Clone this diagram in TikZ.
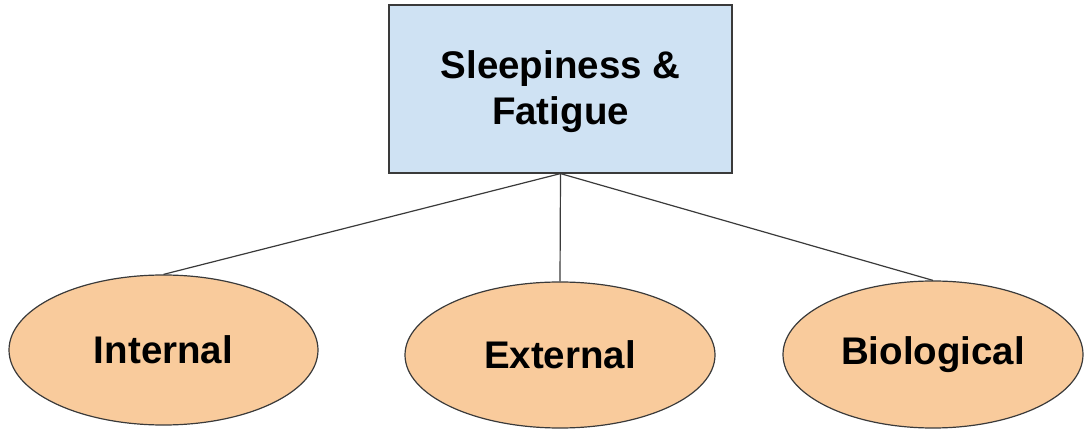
\documentclass[tikz,border=0pt]{standalone}
\usepackage{fontspec}
\setmainfont{Liberation Sans}
\usetikzlibrary{shapes.geometric}
\definecolor{boxblue}{HTML}{CFE2F3}
\definecolor{ovalorange}{HTML}{F9CB9C}
\definecolor{edgegray}{HTML}{3A3A3A}
\tikzset{
  topbox/.style={draw=edgegray, line width=1.2pt, fill=boxblue, rectangle,
    minimum width=343pt, minimum height=168pt, inner sep=0pt},
  boxtext/.style={inner sep=0pt, align=center,
    font=\fontsize{38.5}{46}\selectfont\bfseries},
  factor/.style={draw=edgegray, line width=1.2pt, fill=ovalorange, ellipse,
    inner sep=0pt, font=\fontsize{38.5}{44}\selectfont\bfseries},
  link/.style={draw=edgegray, line width=1.2pt}
}
\begin{document}
\begin{tikzpicture}[x=1pt,y=1pt]
  \useasboundingbox (0,0) rectangle (1084,431);
  \node[topbox] (top) at (560.5,342) {};
  \node[boxtext] (toptext) at ([yshift=-3pt]top.center) {Sleepiness \&\\Fatigue};
  \node[factor, minimum width=309pt, minimum height=150pt] (internal) at (163.5,81) {Internal};
  \node[factor, minimum width=310pt, minimum height=146pt] (external) at (560,76) {External};
  \node[factor, minimum width=300pt, minimum height=147pt] (biological) at (933,76.5) {Biological};
  \draw[link] (top.south) -- (internal.north);
  \draw[link] (top.south) -- (external.north);
  \draw[link] (top.south) -- (biological.north);
\end{tikzpicture}
\end{document}
